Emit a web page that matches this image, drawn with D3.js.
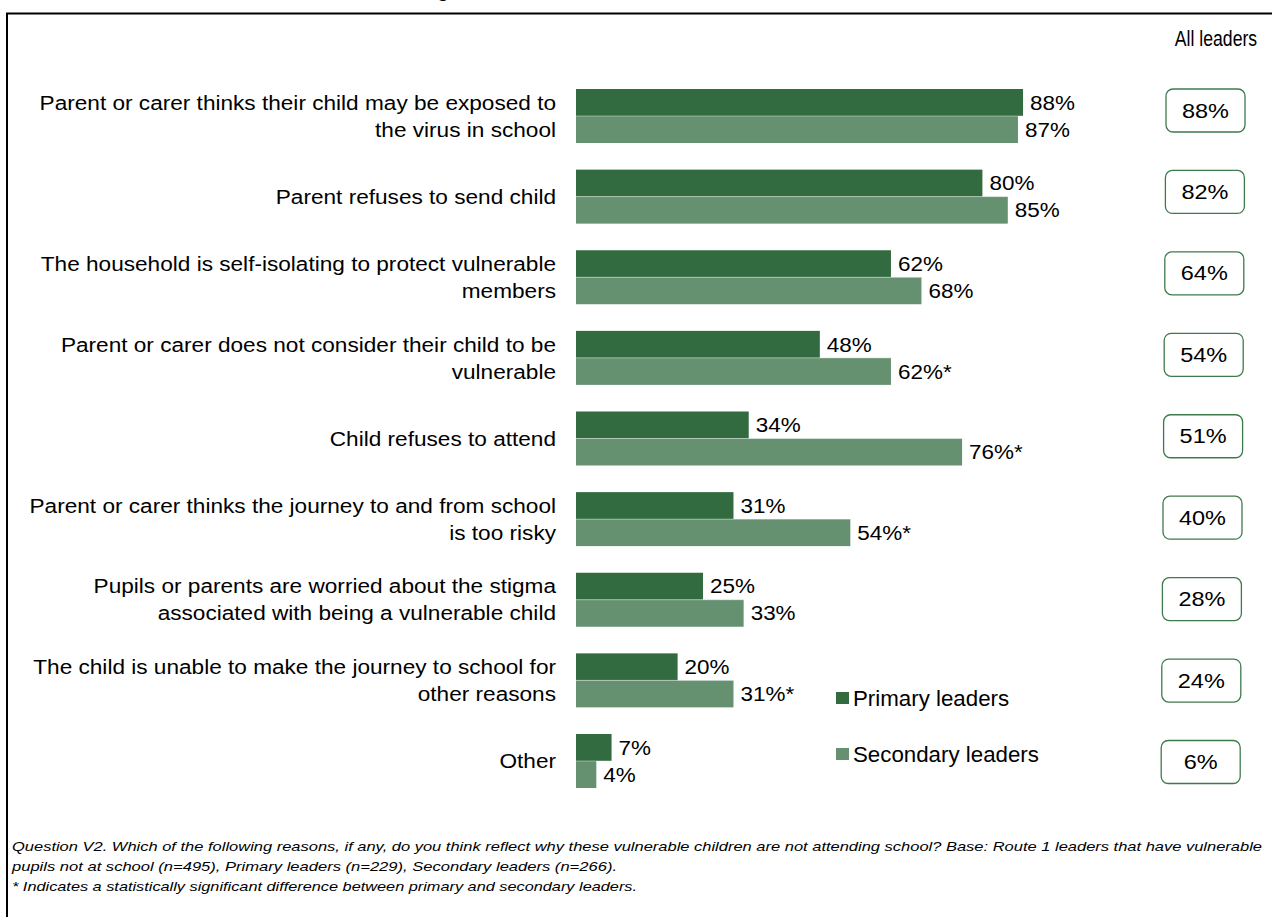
<!DOCTYPE html>
<html><head><meta charset="utf-8">
<script src="https://cdn.jsdelivr.net/npm/d3@7"></script>
<style>body{margin:0;background:#fff;}svg{display:block;font-family:Arial,"Liberation Sans",sans-serif;}</style>
</head><body><svg id="c" width="1272" height="917"></svg>
<script>
const categories = [
  ["Parent or carer thinks their child may be exposed to","the virus in school"],
  ["Parent refuses to send child"],
  ["The household is self-isolating to protect vulnerable","members"],
  ["Parent or carer does not consider their child to be","vulnerable"],
  ["Child refuses to attend"],
  ["Parent or carer thinks the journey to and from school","is too risky"],
  ["Pupils or parents are worried about the stigma","associated with being a vulnerable child"],
  ["The child is unable to make the journey to school for","other reasons"],
  ["Other"]
];
const primary = [88,80,62,48,34,31,25,20,7];
const secondary = [87,85,68,62,76,54,33,31,4];
const secondarySig = [false,false,false,true,true,true,false,true,false];
const allLeaders = [88,82,64,54,51,40,28,24,6];
const seriesNames = ["Primary leaders","Secondary leaders"];
const colors = ["#336b40","#659170"];
const footnotes = [
  "Question V2. Which of the following reasons, if any, do you think reflect why these vulnerable children are not attending school? Base: Route 1 leaders that have vulnerable",
  "pupils not at school (n=495), Primary leaders (n=229), Secondary leaders (n=266).",
  "* Indicates a statistically significant difference between primary and secondary leaders."
];

const svg = d3.select("#c");
const idx = d3.range(categories.length);
const x = d3.scaleLinear().domain([0,100]).range([576,1084]);
const y = d3.scaleBand().domain(idx).range([75.7,801.3]);
const barH = 27;
const yBox = d3.scaleBand().domain(idx).range([69.8,802.7]);

function stext(sel, tx, ty, sx, txt, anchor, size){
  return sel.append("text").attr("transform",`translate(${tx},${ty}) scale(${sx},1)`)
    .attr("text-anchor",anchor).attr("dominant-baseline","central").attr("font-size",size).text(txt);
}

// frame
svg.append("path").attr("d","M7,917 V13.5 H1272").attr("fill","none").attr("stroke","#000").attr("stroke-width",2);

// title descender remnant
svg.append("text").attr("x",437).attr("y",-3).attr("font-size",20).attr("font-weight","bold").text("g");

// category labels
const lab = svg.append("g").attr("fill","#000");
idx.forEach(i=>{
  const lines = categories[i];
  const c = y(i)+y.bandwidth()/2;
  lines.forEach((t,j)=>{
    stext(lab, 556, c + (j-(lines.length-1)/2)*27, 1.077, t, "end", 21);
  });
});

// bars
const g = svg.append("g");
idx.forEach(i=>{
  const c = y(i)+y.bandwidth()/2;
  g.append("rect").attr("x",x(0)).attr("y",c-barH).attr("width",x(primary[i])-x(0)).attr("height",barH).attr("fill",colors[0]);
  g.append("rect").attr("x",x(0)).attr("y",c).attr("width",x(secondary[i])-x(0)).attr("height",barH).attr("fill",colors[1]);
  g.append("line").attr("x1",x(0)).attr("x2",x(Math.max(primary[i],secondary[i]))).attr("y1",c).attr("y2",c).attr("stroke","#fff").attr("stroke-width",0.8).attr("opacity",0.5);
  stext(g, x(primary[i])+7, c-barH/2, 1.07, primary[i]+"%", "start", 21);
  stext(g, x(secondary[i])+7, c+barH/2, 1.07, secondary[i]+"%"+(secondarySig[i]?"*":""), "start", 21);
});

// All leaders
stext(svg, 1216, 38, 0.82, "All leaders", "middle", 21.5);
idx.forEach(i=>{
  const c = yBox(i)+yBox.bandwidth()/2;
  svg.append("rect").attr("x",1166-i*0.6).attr("y",c-21.5).attr("width",79).attr("height",43).attr("rx",7)
    .attr("fill","#fff").attr("stroke","#3f7a4c").attr("stroke-width",1.3);
  stext(svg, 1205.5-i*0.6, c, 1.12, allLeaders[i]+"%", "middle", 21);
});

// legend
const lg = svg.append("g");
seriesNames.forEach((n,k)=>{
  const yy = 698 + k*56;
  lg.append("rect").attr("x",836).attr("y",yy-6).attr("width",13).attr("height",12).attr("fill",colors[k]);
  stext(lg, 853, yy, 1.0, n, "start", 22.3);
});

// footnotes
const fn = svg.append("g").attr("font-size",13.5).attr("font-style","italic");
const fnEnds = [1262, 617, 637];
footnotes.forEach((t,k)=>{
  fn.append("text").attr("x",12).attr("y",851 + k*20).attr("textLength",fnEnds[k]-12).attr("lengthAdjust","spacingAndGlyphs").text(t);
});
</script></body></html>
